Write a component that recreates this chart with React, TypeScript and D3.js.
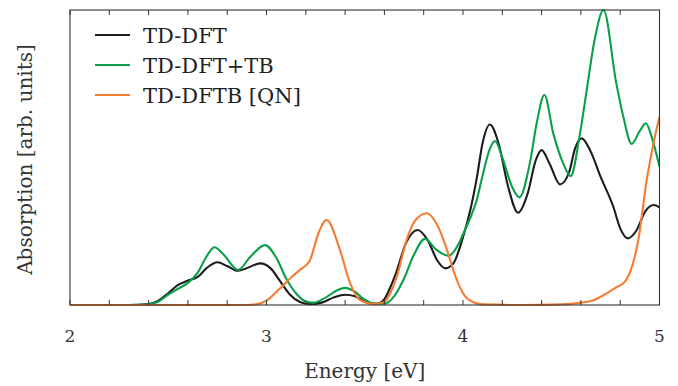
import * as d3 from "d3"

// energy grid (eV) and absorption values (arb. units, 1 = top of frame)
const dftE = [2.0, 2.3, 2.4, 2.45, 2.5, 2.55, 2.6, 2.65, 2.7, 2.75, 2.8, 2.855, 2.9, 2.967, 3.02, 3.07, 3.12, 3.17, 3.22, 3.28, 3.34, 3.4, 3.45, 3.5, 3.56, 3.6, 3.63, 3.66, 3.71, 3.77, 3.82, 3.87, 3.91, 3.95, 4.0, 4.04, 4.07, 4.1, 4.137, 4.18, 4.23, 4.28, 4.33, 4.37, 4.4, 4.44, 4.494, 4.54, 4.57, 4.604, 4.65, 4.7, 4.765, 4.8, 4.84, 4.88, 4.93, 4.97, 5.0]
const dftV = [0, 0, 0.003, 0.015, 0.04, 0.068, 0.083, 0.095, 0.128, 0.145, 0.132, 0.116, 0.125, 0.141, 0.125, 0.08, 0.035, 0.01, 0.003, 0.008, 0.025, 0.035, 0.03, 0.012, 0.004, 0.02, 0.06, 0.11, 0.21, 0.254, 0.22, 0.15, 0.124, 0.14, 0.23, 0.33, 0.43, 0.55, 0.612, 0.55, 0.4, 0.313, 0.38, 0.49, 0.525, 0.48, 0.409, 0.45, 0.53, 0.565, 0.52, 0.435, 0.333, 0.26, 0.226, 0.25, 0.32, 0.339, 0.331]

const tbE = [2.0, 2.3, 2.4, 2.45, 2.5, 2.55, 2.6, 2.65, 2.7, 2.735, 2.78, 2.855, 2.92, 2.992, 3.05, 3.1, 3.15, 3.2, 3.24, 3.3, 3.36, 3.4, 3.45, 3.5, 3.55, 3.6, 3.65, 3.7, 3.75, 3.807, 3.86, 3.925, 3.98, 4.0, 4.04, 4.07, 4.1, 4.137, 4.163, 4.2, 4.25, 4.287, 4.34, 4.375, 4.414, 4.46, 4.51, 4.548, 4.595, 4.63, 4.67, 4.715, 4.78, 4.816, 4.858, 4.9, 4.931, 4.96, 5.0]
const tbV = [0, 0, 0.002, 0.012, 0.035, 0.055, 0.075, 0.11, 0.17, 0.196, 0.172, 0.119, 0.165, 0.203, 0.16, 0.09, 0.04, 0.012, 0.008, 0.025, 0.05, 0.058, 0.045, 0.018, 0.005, 0.004, 0.03, 0.09, 0.17, 0.224, 0.19, 0.167, 0.21, 0.24, 0.3, 0.356, 0.44, 0.53, 0.556, 0.5, 0.4, 0.365, 0.48, 0.616, 0.712, 0.58, 0.48, 0.437, 0.58, 0.73, 0.9, 1.0, 0.752, 0.638, 0.546, 0.59, 0.616, 0.57, 0.469]

const qnE = [2.0, 2.9, 2.95, 3.0, 3.07, 3.136, 3.17, 3.22, 3.264, 3.306, 3.374, 3.425, 3.476, 3.55, 3.6, 3.63, 3.663, 3.713, 3.75, 3.815, 3.87, 3.917, 3.96, 4.0, 4.05, 4.1, 4.3, 4.5, 4.6, 4.66, 4.72, 4.78, 4.824, 4.86, 4.892, 4.935, 4.97, 5.0]
const qnV = [0, 0, 0.003, 0.015, 0.057, 0.1, 0.119, 0.15, 0.243, 0.288, 0.186, 0.075, 0.017, 0.003, 0.01, 0.04, 0.096, 0.22, 0.28, 0.311, 0.27, 0.19, 0.1, 0.04, 0.01, 0.002, 0, 0.002, 0.008, 0.015, 0.035, 0.06, 0.079, 0.13, 0.22, 0.424, 0.55, 0.638]

const seriesNames = ["TD-DFT", "TD-DFT+TB", "TD-DFTB [QN]"]
const seriesColors = ["#1c1c1c", "#0a9f4b", "#f47b2f"]
const xTicks = [2, 3, 4, 5]
const minorTicks = d3.range(2, 5.001, 0.2)

const W = 678, H = 386
const M = { left: 62, right: 18.5, top: 2, bottom: 73 }
const FONT = "DejaVu Serif"

export default function App() {
  const x = d3.scaleLinear().domain([2, 5]).range([M.left + 8, W - M.right])
  const y = d3.scaleLinear().domain([0, 1]).range([H - M.bottom - 8, M.top + 8])
  const x0 = x.range()[0], x1 = x.range()[1]
  const yb = y(0), yt = y(1)
  const line = d3.line<[number, number]>().x(d => x(d[0])).y(d => y(d[1])).curve(d3.curveMonotoneX)
  const data: [number, number][][] = [
    dftE.map((e, i) => [e, dftV[i]]),
    tbE.map((e, i) => [e, tbV[i]]),
    qnE.map((e, i) => [e, qnV[i]]),
  ]
  return (
    <svg width={W} height={H} style={{ position: "absolute", left: 0, top: 0, background: "#fff" }}>
      <defs>
        <clipPath id="plot"><rect x={x0} y={yt - 2} width={x1 - x0} height={yb - yt + 4} /></clipPath>
      </defs>
      <g clipPath="url(#plot)">
        {data.map((d, i) => (
          <path key={i} d={line(d) ?? ""} fill="none" stroke={seriesColors[i]} strokeWidth={2.1} strokeLinejoin="round" />
        ))}
      </g>
      <rect x={x0} y={yt} width={x1 - x0} height={yb - yt} fill="none" stroke="#333" strokeWidth={1.1} />
      {minorTicks.map((t, i) => (
        <g key={i} stroke="#333" strokeWidth={1}>
          <line x1={x(t)} x2={x(t)} y1={yb} y2={yb - 5} />
          <line x1={x(t)} x2={x(t)} y1={yt} y2={yt + 5} />
        </g>
      ))}
      {xTicks.map(t => (
        <text key={t} x={x(t)} y={yb + 37} textAnchor="middle" fontFamily={FONT} fontSize={17} fill="#333">{t}</text>
      ))}
      <text x={(x0 + x1) / 2} y={yb + 73} textAnchor="middle" fontFamily={FONT} fontSize={20} fill="#333">Energy [eV]</text>
      <text transform={`translate(${32},${(yt + yb) / 2 + 2}) rotate(-90)`} textAnchor="middle" fontFamily={FONT} fontSize={20} fill="#333">Absorption [arb. units]</text>
      {seriesNames.map((n, i) => {
        const ly = 35 + i * 30
        return (
          <g key={n}>
            <line x1={95} x2={130} y1={ly} y2={ly} stroke={seriesColors[i]} strokeWidth={2.1} />
            <text x={143} y={ly + 8} fontFamily={FONT} fontSize={21} fill="#222">{n}</text>
          </g>
        )
      })}
    </svg>
  )
}
